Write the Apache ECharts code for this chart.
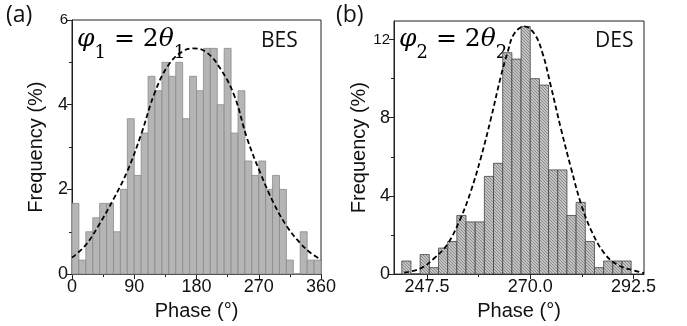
<!DOCTYPE html>
<html>
<head>
<meta charset="utf-8">
<script src="https://cdn.jsdelivr.net/npm/echarts@6/dist/echarts.min.js"></script>
<style>
html,body{margin:0;padding:0;background:#fff;}
#c{width:687px;height:326px;}
</style>
</head>
<body>
<div id="c"></div>
<script>
// ---- Data ----
// Left panel (BES): bins of 10 degrees, bin start values
const besBinStart = [0,10,20,30,40,50,60,70,80,90,100,110,120,130,140,150,160,170,180,190,200,210,220,230,240,250,260,270,280,290,300,310,320,330,340,350];
const besBinWidth = 10;
const besFreq = [1.67,0.33,1.0,1.33,1.67,1.67,1.0,2.0,3.67,2.33,3.33,4.67,4.33,5.0,4.67,5.0,3.67,4.67,4.33,5.33,5.33,4.0,5.33,3.33,4.33,2.67,2.33,2.67,2.0,2.33,2.0,0.33,0,1.0,0.33,0.33];
// fitted curve points
const besFitX = [0,20,40,60,80,100,120,140,160,176,195,215,235,253,273,292,311,330,345,360];
const besFitY = [0.39,0.69,1.19,1.77,2.43,3.3,4.3,4.95,5.26,5.33,5.23,4.84,4.2,3.21,2.36,1.66,1.12,0.73,0.5,0.34];

// Right panel (DES): bins of 2 degrees
const desBinStart = [242,244,246,248,250,252,254,256,258,260,262,264,266,268,270,272,274,276,278,280,282,284,286,288,290];
const desBinWidth = 2;
const desFreq = [0.67,0,1.0,0.33,1.33,1.67,3.0,2.67,2.67,5.0,5.67,11.33,11.0,12.67,10.0,9.67,5.33,5.33,3.0,3.67,1.67,0.33,0.67,0.67,0.67];
const desFitX = [242.5,246.1,249.0,252.0,254.9,257.05,259.2,261.4,263.6,265.1,266.5,268.7,270.9,272.7,274.5,276.7,278.9,281.1,283.3,286.2,289.1,292.7,294.8];
const desFitY = [0.08,0.29,0.8,1.55,2.9,4.24,5.92,7.93,10.12,11.38,12.3,12.67,12.3,11.29,9.61,7.43,5.42,3.57,2.23,1.05,0.46,0.18,0.05];

// tick labels
const besXTicks = [0,90,180,270,360];
const besYTicks = [0,2,4,6];
const desXTicks = [247.5,270.0,292.5];
const desXMinor = [258.75,281.25];
const desYTicks = [0,4,8,12];
const desYMinor = [2,6,10];

// ---- Build ----
const chart = echarts.init(document.getElementById('c'), null, {renderer:'canvas'});

function hatch(){
  const c = document.createElement('canvas');
  c.width = 3; c.height = 3;
  const g = c.getContext('2d');
  g.fillStyle = '#c3c3c3';
  g.fillRect(0,0,3,3);
  g.strokeStyle = '#7c7c7c';
  g.lineWidth = 0.8;
  g.beginPath();
  g.moveTo(-1,-1); g.lineTo(4,4);
  g.moveTo(-1,2); g.lineTo(2,5);
  g.moveTo(2,-1); g.lineTo(5,2);
  g.stroke();
  return c;
}
const hatchImg = hatch();

function binData(starts, w, vals){
  return starts.map((s,i)=>[s, s+w, vals[i]]);
}
function makeRender(fill, stroke){
  return function(params, api){
    const a = api.coord([api.value(0), api.value(2)]);
    const b = api.coord([api.value(1), 0]);
    return {type:'rect', shape:{x:a[0], y:a[1], width:b[0]-a[0], height:b[1]-a[1]},
      style:{fill: fill, stroke: stroke, lineWidth: 0.8}};
  };
}

const FONT = 'Liberation Sans, Arial, sans-serif';
const labStyle = {color:'#111', fontFamily: FONT, fontSize: 18};
const axLine = {show:true, lineStyle:{color:'#222', width:1}};

function fmtY(v, top){ return v === top ? '{s|' + v + '}' : String(v); }

const mathRich = {
  i:{fontFamily:'DejaVu Serif', fontStyle:'italic', fontSize:25, lineHeight:26, verticalAlign:'top', color:'#111'},
  n:{fontFamily:'DejaVu Serif', fontSize:25, lineHeight:26, verticalAlign:'top', color:'#111'},
  b:{fontFamily:'DejaVu Serif', fontSize:18, lineHeight:35, verticalAlign:'bottom', color:'#111'}
};

const option = {
  animation:false,
  backgroundColor:'#fff',
  grid:[
    {left:72, right:366, top:20, bottom:48, show:true, borderColor:'#222', borderWidth:1},
    {left:394, right:43, top:21, bottom:49, show:true, borderColor:'#222', borderWidth:1}
  ],
  xAxis:[
    {gridIndex:0, type:'value', min:0, max:360, interval:90, position:'bottom',
     axisLine:axLine, splitLine:{show:false},
     axisTick:{show:true, length:5, lineStyle:{color:'#222'}},
     minorTick:{show:true, splitNumber:2, length:3, lineStyle:{color:'#222'}},
     axisLabel:{...labStyle, margin:4},
     name:'Phase (°)', nameLocation:'middle', nameGap:21,
     nameTextStyle:{color:'#111', fontFamily:FONT, fontSize:20}},
    {gridIndex:1, type:'value', min:240.3, max:294.8, position:'bottom',
     axisLine:axLine, splitLine:{show:false},
     axisTick:{show:true, length:5, customValues:desXTicks, lineStyle:{color:'#222'}},
     axisLabel:{...labStyle, margin:4, customValues:desXTicks, formatter:v=>Number(v).toFixed(1)},
     name:'Phase (°)', nameLocation:'middle', nameGap:21,
     nameTextStyle:{color:'#111', fontFamily:FONT, fontSize:20}},
    {gridIndex:1, type:'value', min:240.3, max:294.8, position:'bottom', offset:0,
     axisLine:{show:false}, splitLine:{show:false},
     axisTick:{show:true, length:3, customValues:desXMinor, lineStyle:{color:'#222'}},
     axisLabel:{show:false, customValues:desXMinor}}
  ],
  yAxis:[
    {gridIndex:0, type:'value', min:0, max:6, interval:2, position:'left',
     axisLine:axLine, splitLine:{show:false},
     axisTick:{show:true, length:5, lineStyle:{color:'#222'}},
     minorTick:{show:true, splitNumber:2, length:3, lineStyle:{color:'#222'}},
     axisLabel:{...labStyle, margin:4, formatter:v=>fmtY(v,6), rich:{s:{fontFamily:FONT, fontSize:15, color:'#111'}}},
     name:'Frequency (%)', nameLocation:'middle', nameGap:26,
     nameTextStyle:{color:'#111', fontFamily:FONT, fontSize:20}},
    {gridIndex:1, type:'value', min:0, max:12.95, position:'left',
     axisLine:axLine, splitLine:{show:false},
     axisTick:{show:true, length:5, customValues:desYTicks, lineStyle:{color:'#222'}},
     axisLabel:{...labStyle, margin:4, customValues:desYTicks, formatter:v=>fmtY(v,12), rich:{s:{fontFamily:FONT, fontSize:15, color:'#111'}}},
     name:'Frequency (%)', nameLocation:'middle', nameGap:25,
     nameTextStyle:{color:'#111', fontFamily:FONT, fontSize:20}},
    {gridIndex:1, type:'value', min:0, max:12.95, position:'left', offset:0,
     axisLine:{show:false}, splitLine:{show:false},
     axisTick:{show:true, length:3, customValues:desYMinor, lineStyle:{color:'#222'}},
     axisLabel:{show:false, customValues:desYMinor}}
  ],
  series:[
    {type:'custom', xAxisIndex:0, yAxisIndex:0, renderItem:makeRender('#b5b5b5','#8a8a8a'),
     encode:{x:[0,1], y:2}, data:binData(besBinStart, besBinWidth, besFreq), z:2},
    {type:'line', xAxisIndex:0, yAxisIndex:0, smooth:0.4, symbol:'none',
     lineStyle:{color:'#000', width:1.8, type:[5,3]}, data:besFitX.map((x,i)=>[x,besFitY[i]]), z:5},
    {type:'custom', xAxisIndex:1, yAxisIndex:1, renderItem:makeRender({image:hatchImg, repeat:'repeat'},'#444'),
     encode:{x:[0,1], y:2}, data:binData(desBinStart, desBinWidth, desFreq), z:2},
    {type:'line', xAxisIndex:1, yAxisIndex:1, smooth:0.4, symbol:'none',
     lineStyle:{color:'#000', width:1.8, type:[5,3]}, data:desFitX.map((x,i)=>[x,desFitY[i]]), z:5}
  ],
  graphic:[
    {type:'text', left:6, top:4, style:{text:'(a)', fontFamily:'Open Sans, Lato, sans-serif', fontSize:23, fill:'#111'}},
    {type:'text', left:336, top:4, style:{text:'(b)', fontFamily:'Open Sans, Lato, sans-serif', fontSize:23, fill:'#111'}},
    {type:'text', left:261, top:31, style:{text:'BES', fontFamily:'Open Sans, Lato, sans-serif', fontSize:21, fill:'#111'}},
    {type:'text', left:595, top:31, style:{text:'DES', fontFamily:'Open Sans, Lato, sans-serif', fontSize:21, fill:'#111'}},
    {type:'text', left:77, top:27, style:{text:'{i|φ}{b|1}{n| = 2}{i|θ}{b|1}', rich:mathRich}},
    {type:'text', left:399, top:27, style:{text:'{i|φ}{b|2}{n| = 2}{i|θ}{b|2}', rich:mathRich}}
  ]
};
chart.setOption(option);
</script>
</body>
</html>
